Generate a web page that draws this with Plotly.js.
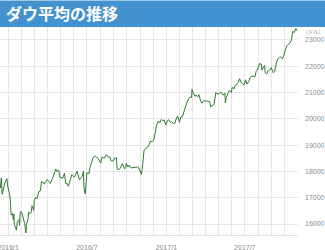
<!DOCTYPE html>
<html>
<head>
<meta charset="utf-8">
<script src="https://cdn.plot.ly/plotly-3.0.1.min.js"></script>
<style>html,body{margin:0;padding:0;background:#fff;}#chart{width:325px;height:250px;}</style>
</head>
<body>
<div id="chart"></div>
<script>
const chartTitle = "ダウ平均の推移";
const unitLabel = "(ドル)";
const dates = [
"2015-12-14","2015-12-16","2015-12-18","2015-12-22","2015-12-24","2015-12-29","2015-12-31",
"2016-01-04","2016-01-06","2016-01-07","2016-01-08","2016-01-11","2016-01-13","2016-01-14","2016-01-15","2016-01-20","2016-01-22","2016-01-26","2016-01-27","2016-01-29",
"2016-02-01","2016-02-03","2016-02-05","2016-02-08","2016-02-11","2016-02-12","2016-02-16","2016-02-17","2016-02-19","2016-02-23","2016-02-25","2016-02-29",
"2016-03-01","2016-03-04","2016-03-08","2016-03-11","2016-03-15","2016-03-18","2016-03-22","2016-03-24","2016-03-29","2016-03-31",
"2016-04-05","2016-04-07","2016-04-12","2016-04-15","2016-04-20","2016-04-22","2016-04-27","2016-04-29",
"2016-05-03","2016-05-06","2016-05-10","2016-05-13","2016-05-17","2016-05-19","2016-05-24","2016-05-27",
"2016-06-01","2016-06-03","2016-06-08","2016-06-10","2016-06-14","2016-06-16","2016-06-20","2016-06-23","2016-06-24","2016-06-27","2016-06-29",
"2016-07-01","2016-07-06","2016-07-08","2016-07-12","2016-07-15","2016-07-20","2016-07-22","2016-07-27","2016-07-29",
"2016-08-02","2016-08-05","2016-08-10","2016-08-15","2016-08-19","2016-08-23","2016-08-26","2016-08-31",
"2016-09-02","2016-09-07","2016-09-09","2016-09-13","2016-09-16","2016-09-21","2016-09-26","2016-09-29","2016-09-30",
"2016-10-04","2016-10-07","2016-10-11","2016-10-14","2016-10-18","2016-10-21","2016-10-25","2016-10-28",
"2016-11-01","2016-11-04","2016-11-07","2016-11-09","2016-11-10","2016-11-14","2016-11-17","2016-11-22","2016-11-25","2016-11-29",
"2016-12-02","2016-12-07","2016-12-09","2016-12-13","2016-12-16","2016-12-20","2016-12-23","2016-12-27","2016-12-30",
"2017-01-04","2017-01-06","2017-01-10","2017-01-13","2017-01-18","2017-01-20","2017-01-25","2017-01-27","2017-01-31",
"2017-02-03","2017-02-07","2017-02-10","2017-02-14","2017-02-17","2017-02-22","2017-02-24","2017-02-28",
"2017-03-01","2017-03-03","2017-03-08","2017-03-10","2017-03-14","2017-03-17","2017-03-21","2017-03-24","2017-03-28","2017-03-31",
"2017-04-04","2017-04-07","2017-04-11","2017-04-13","2017-04-18","2017-04-21","2017-04-25","2017-04-28",
"2017-05-02","2017-05-05","2017-05-09","2017-05-12","2017-05-16","2017-05-17","2017-05-19","2017-05-23","2017-05-26","2017-05-31",
"2017-06-02","2017-06-06","2017-06-09","2017-06-13","2017-06-16","2017-06-19","2017-06-22","2017-06-27","2017-06-29",
"2017-07-03","2017-07-06","2017-07-10","2017-07-13","2017-07-17","2017-07-20","2017-07-25","2017-07-27","2017-07-31",
"2017-08-02","2017-08-04","2017-08-08","2017-08-10","2017-08-14","2017-08-16","2017-08-17","2017-08-21","2017-08-23","2017-08-25","2017-08-29","2017-08-31",
"2017-09-05","2017-09-08","2017-09-12","2017-09-15","2017-09-19","2017-09-22","2017-09-26","2017-09-29",
"2017-10-03","2017-10-06","2017-10-10","2017-10-13","2017-10-17","2017-10-19","2017-10-20","2017-10-23","2017-10-25","2017-10-27","2017-10-30"
];
const dowClose = [
17368,17750,17128,17417,17552,17720,17425,
17148,16906,16514,16346,16398,16151,16379,15988,15766,16093,16167,15944,16466,
16449,16336,16205,16027,15660,15974,16196,16454,16392,16431,16698,16517,
16865,17007,16965,17213,17251,17602,17583,17516,17634,17685,
17603,17542,17721,17897,18096,18004,18042,17774,
17751,17740,17928,17535,17530,17436,17706,17873,
17790,17807,18005,17865,17675,17733,17805,18011,17400,17141,17695,
17949,17919,18147,18348,18517,18596,18571,18473,18432,
18314,18544,18496,18636,18553,18548,18395,18401,
18492,18526,18085,18067,18124,18294,18094,18143,18308,
18168,18240,18129,18138,18162,18146,18170,18161,
18037,17888,18259,18590,18808,18869,18904,19024,19153,19122,
19171,19549,19757,19912,19843,19975,19934,19946,19763,
19943,19964,19856,19886,19804,19827,20069,20094,19864,
20071,20090,20269,20504,20624,20776,20822,20812,
21116,21006,20856,20903,20837,20915,20669,20596,20701,20663,
20689,20656,20651,20453,20524,20548,20997,20941,
20950,21007,20975,20897,20980,20607,20805,20937,21080,21009,
21206,21136,21272,21328,21384,21528,21397,21310,21288,
21479,21320,21409,21553,21630,21611,21613,21797,21891,
22016,22093,22085,21844,21994,22025,21751,21703,21812,21814,21866,21948,
21753,21798,22119,22268,22332,22350,22285,22405,
22642,22774,22831,22871,22997,23163,23329,23274,23330,23434,23348
];
const yTicks = [16000,17000,18000,19000,20000,21000,22000,23000];

const trace = {
  x: dates, y: dowClose, type: 'scatter', mode: 'lines',
  line: {color: '#2f7a2f', width: 1}, hoverinfo: 'skip'
};
const plotH = 250 - 27 - 15;
const layout = {
  width: 325, height: 250,
  margin: {l: 0, r: 27, t: 27, b: 15, pad: 0},
  paper_bgcolor: '#ffffff', plot_bgcolor: '#ffffff',
  showlegend: false,
  font: {family: 'Liberation Sans, Arial, sans-serif', size: 7, color: '#8a8a8a'},
  xaxis: {
    type: 'date', range: ['2015-12-13', '2017-11-01'],
    tick0: '2016-01-01', dtick: 'M6', tickformat: '%Y/%-m',
    showgrid: true, gridcolor: '#e6e6e6', gridwidth: 1,
    minor: {dtick: 'M1', tick0: '2016-01-01', showgrid: true, gridcolor: '#e6e6e6', gridwidth: 1},
    ticks: '', ticklabelstandoff: 6, ticklabeloverflow: 'allow', zeroline: false,
    showline: true, linecolor: '#e0e0e0', linewidth: 1, automargin: false,
    tickfont: {family: 'Liberation Sans, Arial, sans-serif', size: 7, color: '#8a8a8a'}
  },
  yaxis: {
    side: 'right', range: [15582, 23490],
    tickvals: yTicks, tickformat: 'd',
    showgrid: true, gridcolor: '#e6e6e6', gridwidth: 1,
    ticks: '', ticklabelstandoff: 6, zeroline: false, showline: false, automargin: false,
    tickfont: {family: 'Liberation Sans, Arial, sans-serif', size: 7, color: '#8a8a8a'}
  },
  shapes: [{
    type: 'rect', xref: 'paper', yref: 'paper',
    x0: -0.01, x1: 325/298 + 0.01, y0: 1, y1: 1 + 26.5/plotH,
    fillcolor: '#4391ce', line: {width: 0}, layer: 'above'
  }],
  annotations: [{
    text: '<b>' + chartTitle + '</b>', xref: 'paper', yref: 'paper',
    x: 4/298, y: 1 + 13.5/plotH, xanchor: 'left', yanchor: 'middle', showarrow: false,
    font: {family: 'Noto Sans CJK JP, sans-serif', size: 16, color: '#ffffff'}
  },{
    text: unitLabel, xref: 'paper', yref: 'y',
    x: 1, y: 23000, xanchor: 'left', yanchor: 'middle', xshift: 6, yshift: 8, showarrow: false,
    font: {family: 'Noto Sans CJK JP, sans-serif', size: 5.5, color: '#8a8a8a'}
  }]
};
Plotly.newPlot('chart', [trace], layout, {staticPlot: true, displayModeBar: false});
</script>
</body>
</html>
